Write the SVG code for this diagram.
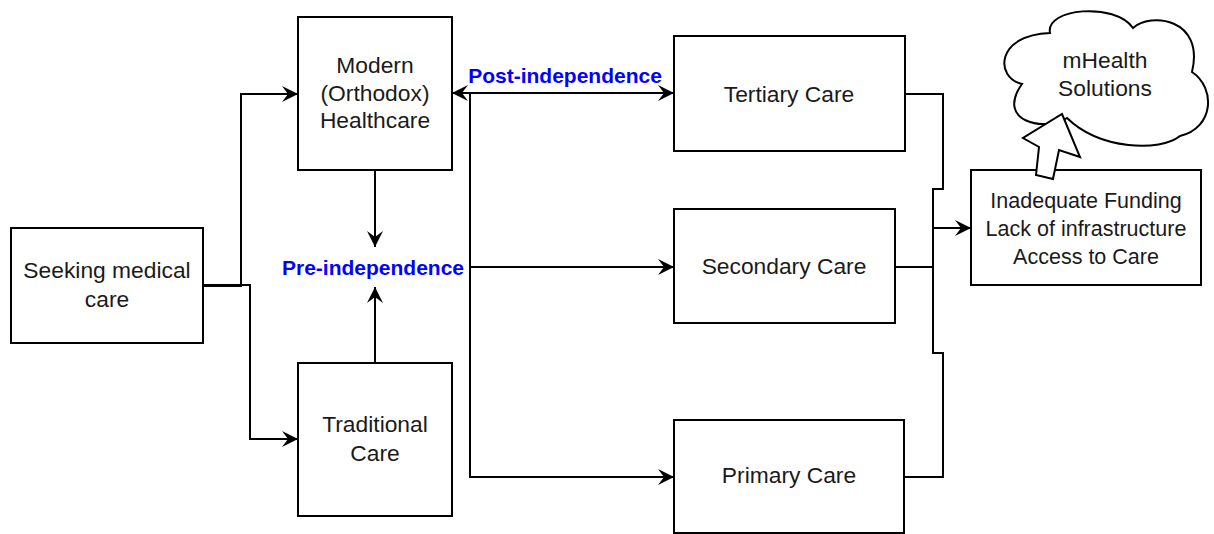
<svg xmlns="http://www.w3.org/2000/svg" width="1214" height="534" viewBox="0 0 1214 534">
<style>
.box{fill:#fff;stroke:#000;stroke-width:2}
.t{font-family:"Liberation Sans",Arial,sans-serif;font-size:22.8px;fill:#1a1a1a;text-anchor:middle}
.s{font-size:21.5px}
.lbl{font-family:"Liberation Sans",Arial,sans-serif;font-size:21px;font-weight:bold;fill:#0000ff;text-anchor:middle}
.ln{fill:none;stroke:#000;stroke-width:2}
</style>
<defs>
<marker id="ah" markerUnits="userSpaceOnUse" markerWidth="18" markerHeight="18" refX="16" refY="8" orient="auto">
<path d="M0,0 L16,8 L0,16 L6,8 Z" fill="#000"/>
</marker>
<marker id="as" markerUnits="userSpaceOnUse" markerWidth="18" markerHeight="18" refX="0" refY="8" orient="auto">
<path d="M16,0 L0,8 L16,16 L10,8 Z" fill="#000"/>
</marker>
</defs>
<rect width="1214" height="534" fill="#fff"/>
<g id="connectors">
<path class="ln" d="M203,286 H241 V94 H298" marker-end="url(#ah)"/>
<path class="ln" d="M203,285 H250 V439 H298" marker-end="url(#ah)"/>
<path class="ln" d="M203,286 H241" stroke-width="3"/>
<path class="ln" d="M375,170 V247" marker-end="url(#ah)"/>
<path class="ln" d="M375,363 V287" marker-end="url(#ah)"/>
<path class="ln" d="M452,93 H674" marker-start="url(#as)" marker-end="url(#ah)"/>
<path class="ln" d="M470,93 V477 H674" marker-end="url(#ah)"/>
<path class="ln" d="M470,267 H674" marker-end="url(#ah)"/>
<path class="ln" d="M905,94 H943 V189 H933 V353 H943 V477 H904"/>
<path class="ln" d="M895,267 H933"/>
<path class="ln" d="M933,228 H971" stroke-width="3" marker-end="url(#ah)"/>
</g>
<g id="seeking">
<rect class="box" x="11" y="228" width="192" height="115"/>
<text class="t" x="107" y="278">Seeking medical</text>
<text class="t" x="107" y="307">care</text>
</g>
<g id="modern">
<rect class="box" x="298" y="17" width="154" height="153"/>
<text class="t" x="375" y="73">Modern</text>
<text class="t" x="375" y="101">(Orthodox)</text>
<text class="t" x="375" y="128">Healthcare</text>
</g>
<g id="traditional">
<rect class="box" x="298" y="363" width="154" height="153"/>
<text class="t" x="375" y="432">Traditional</text>
<text class="t" x="375" y="461">Care</text>
</g>
<g id="pre">
<rect x="279" y="255" width="190" height="25" fill="#fff"/>
<text class="lbl" x="373" y="275">Pre-independence</text>
</g>
<g id="post">
<text class="lbl" x="565" y="83">Post-independence</text>
</g>
<g id="tertiary">
<rect class="box" x="674" y="36" width="231" height="115"/>
<text class="t" x="789" y="102">Tertiary Care</text>
</g>
<g id="secondary">
<rect class="box" x="674" y="209" width="221" height="114"/>
<text class="t" x="784" y="274">Secondary Care</text>
</g>
<g id="primary">
<rect class="box" x="674" y="420" width="230" height="113"/>
<text class="t" x="789" y="483">Primary Care</text>
</g>
<g id="cloud">
<path class="box" d="M1050,33 C1045,8 1115,2 1133,28 C1150,12 1205,18 1192,72 C1216,88 1214,128 1180,136 C1160,152 1100,150 1067,118 C1045,132 995,122 1022,84 C995,78 995,35 1050,33 Z"/>
<text class="t" x="1105" y="68">mHealth</text>
<text class="t" x="1105" y="96">Solutions</text>
</g>
<g id="inadequate">
<rect class="box" x="971" y="170" width="230" height="115"/>
<text class="t s" x="1086" y="208">Inadequate Funding</text>
<text class="t s" x="1086" y="236">Lack of infrastructure</text>
<text class="t s" x="1086" y="264">Access to Care</text>
</g>
<g id="blockarrow">
<polygon points="1062,114 1080,157 1059,150 1053,179 1036,175 1039,147 1023,138" fill="#fff" stroke="#000" stroke-width="2" stroke-linejoin="miter"/>
</g>
</svg>
